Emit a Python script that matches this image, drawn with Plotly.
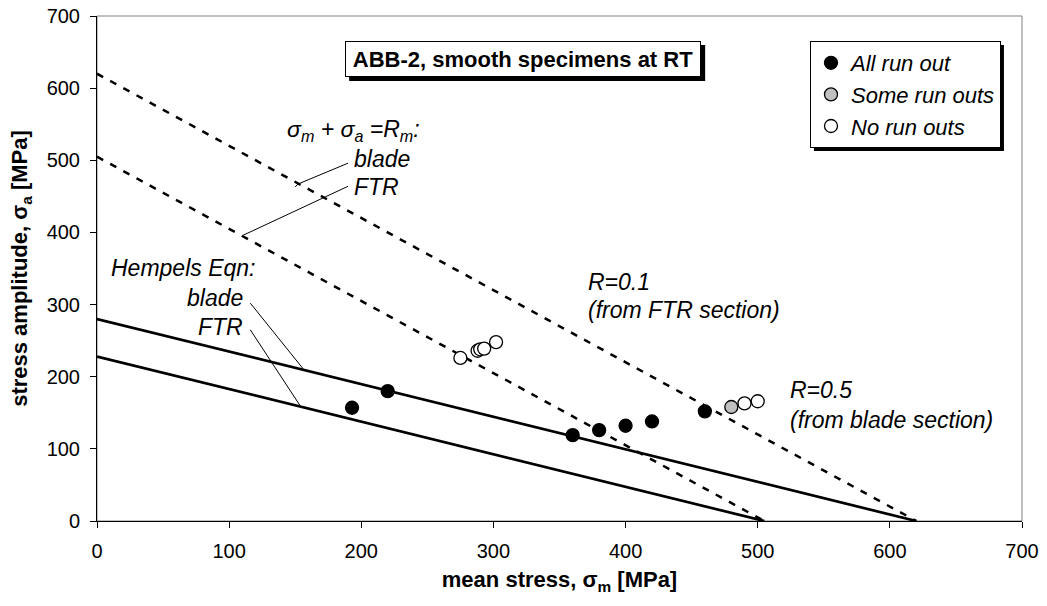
import plotly.graph_objects as go

# ---------------- data ----------------
all_run_out_x = [193, 220, 360, 380, 400, 420, 460]
all_run_out_y = [157, 180, 119, 126, 132, 138, 152]
some_run_outs_x = [480]
some_run_outs_y = [158]
no_run_outs_x = [275, 288, 290, 293, 302, 490, 500]
no_run_outs_y = [226, 236, 238, 239, 248, 163, 166]

# sigma_m + sigma_a = Rm lines
rm_blade = 620
rm_ftr = 505
# Hempel equation lines (intercepts)
hempel_blade_y0 = 280
hempel_blade_x0 = 620
hempel_ftr_y0 = 228
hempel_ftr_x0 = 505

# leader lines (x list, y list)
lead_rm_blade = ([190, 152, 150], [496, 467, 463])
lead_rm_ftr = ([190, 110.5], [464, 396])
lead_hem_blade = ([116, 156], [302, 211])
lead_hem_ftr = ([116, 154], [265, 159])

x_ticks = [0, 100, 200, 300, 400, 500, 600, 700]
y_ticks = [0, 100, 200, 300, 400, 500, 600, 700]

FONT = "Liberation Sans, Arial, sans-serif"

fig = go.Figure()

def line(xs, ys, dash="solid", width=2.5):
    fig.add_trace(go.Scatter(x=xs, y=ys, mode="lines", showlegend=False,
                             hoverinfo="skip",
                             line=dict(color="black", width=width, dash=dash)))

line([0, rm_blade], [rm_blade, 0], dash="7px,8px", width=2.5)
line([0, rm_ftr], [rm_ftr, 0], dash="7px,8px", width=2.5)
line([0, hempel_blade_x0], [hempel_blade_y0, 0], width=2.7)
line([0, hempel_ftr_x0], [hempel_ftr_y0, 0], width=2.7)
for xs, ys in (lead_rm_blade, lead_rm_ftr, lead_hem_blade, lead_hem_ftr):
    line(list(xs), list(ys), width=1)

mk = dict(size=13, line=dict(color="black", width=1.3))
fig.add_trace(go.Scatter(x=all_run_out_x, y=all_run_out_y, mode="markers",
                         name="<i>All run out</i>",
                         marker=dict(color="black", **mk)))
fig.add_trace(go.Scatter(x=some_run_outs_x, y=some_run_outs_y, mode="markers",
                         name="<i>Some run outs</i>",
                         marker=dict(color="#c0c0c0", **mk)))
fig.add_trace(go.Scatter(x=no_run_outs_x, y=no_run_outs_y, mode="markers",
                         name="<i>No run outs</i>",
                         marker=dict(color="white", **mk)))

ann = []
def txt(x, y, t, xanchor="left", size=23):
    ann.append(dict(x=x, y=y, xref="x", yref="y", text=t, showarrow=False,
                    xanchor=xanchor, yanchor="middle", borderpad=0,
                    font=dict(family=FONT, size=size, color="black")))

txt(245, 541, "<i>σ<sub>m</sub> + σ<sub>a</sub> =R<sub>m</sub>:</i>", xanchor="right", size=23)
txt(194, 502, "<i>blade</i>")
txt(194, 463, "<i>FTR</i>")
txt(10, 351, "<i>Hempels Eqn:</i>")
txt(111, 309, "<i>blade</i>", xanchor="right")
txt(111, 269, "<i>FTR</i>", xanchor="right")
txt(371, 331, "<i>R=0.1</i>")
txt(371, 292, "<i>(from FTR section)</i>")
txt(524, 182, "<i>R=0.5</i>")
txt(524, 140, "<i>(from blade section)</i>")

title_text = "<b>ABB-2, smooth specimens at RT</b>"
TX, TY, TW, TH = 322.5, 640.4, 350, 30
ann.append(dict(x=TX, y=TY, xref="x", yref="y", text=title_text, showarrow=False,
                width=TW, height=TH, align="center", valign="middle",
                bgcolor="white", bordercolor="black", borderwidth=1, borderpad=2,
                font=dict(family=FONT, size=22, color="black")))

half_w = TW / 2 + 3
half_h = TH / 2 + 3
shapes = [
    # plot area frame (grey)
    dict(type="rect", xref="paper", yref="paper", x0=0, y0=0, x1=1, y1=1,
         line=dict(color="#808080", width=1), layer="below"),
    # title shadow
    dict(type="rect", xref="x", yref="y", xsizemode="pixel", ysizemode="pixel",
         xanchor=TX, yanchor=TY, x0=-half_w + 4, x1=half_w + 4,
         y0=-half_h - 4, y1=half_h - 4, fillcolor="black",
         line=dict(width=0), layer="above"),
    # legend shadow
    dict(type="rect", xref="paper", yref="paper", x0=0.7751, x1=0.9805,
         y0=0.7327, y1=0.9426, fillcolor="black", line=dict(width=0), layer="above"),
]

fig.update_layout(
    width=1047, height=606,
    margin=dict(l=97, r=25, t=16, b=85),
    paper_bgcolor="white", plot_bgcolor="white",
    font=dict(family=FONT, size=20, color="black"),
    showlegend=True,
    legend=dict(x=0.7708, y=0.9505, xanchor="left", yanchor="top",
                bgcolor="white", bordercolor="black", borderwidth=1,
                font=dict(family=FONT, size=22, color="black"),
                itemwidth=30, tracegroupgap=0),
    annotations=ann,
    shapes=shapes,
    xaxis=dict(range=[0, 700], tickvals=x_ticks, ticks="outside", ticklen=6,
               tickcolor="black", showline=True, linecolor="black", linewidth=1,
               showgrid=False, zeroline=False, tickfont=dict(size=20),
               ticklabelstandoff=6, automargin=False,
               title=dict(text="<b>mean stress, σ<sub>m</sub> [MPa]</b>",
                          font=dict(size=22), standoff=10)),
    yaxis=dict(range=[0, 700], tickvals=y_ticks, ticks="outside", ticklen=6,
               tickcolor="black", showline=True, linecolor="black", linewidth=1,
               showgrid=False, zeroline=False, tickfont=dict(size=20),
               ticklabelstandoff=6, automargin=False,
               title=dict(text="<b>stress amplitude, σ<sub>a</sub> [MPa]</b>",
                          font=dict(size=22), standoff=12)),
)

# remove the browser's default 8px body margin so the figure sits at (0, 0)
fig.write_html("out.html",
               config={"displayModeBar": False, "staticPlot": True},
               post_script="document.body.style.margin='0';document.body.style.overflow='hidden';")
